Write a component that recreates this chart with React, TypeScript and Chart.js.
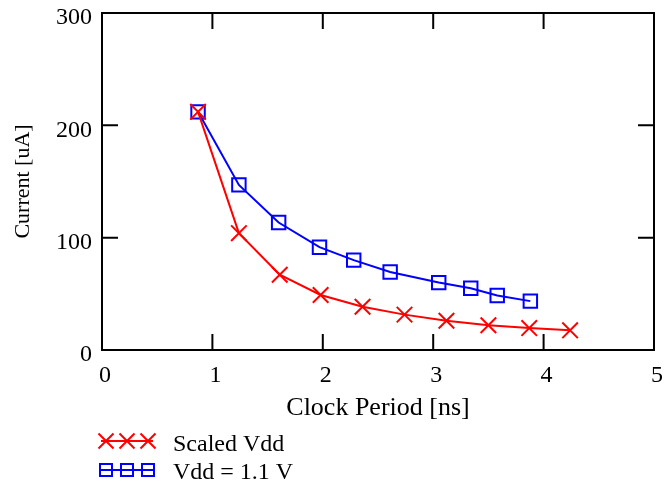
import React, { useEffect, useRef } from "react";
import { Chart, registerables } from "chart.js";

Chart.register(...registerables);

const seriesNames = ["Scaled Vdd", "Vdd = 1.1 V"];
const scaledPeriod = [0.87, 1.24, 1.61, 1.98, 2.36, 2.74, 3.12, 3.5, 3.87, 4.24];
const scaledCurrent = [212, 104, 67, 49, 38.5, 31.5, 26, 22, 19.5, 17.5];
const fixedPeriod = [0.87, 1.24, 1.6, 1.97, 2.28, 2.61, 3.05, 3.34, 3.58, 3.88];
const fixedCurrent = [212, 147, 113.5, 91.5, 80, 69.5, 60, 55, 48.5, 43.5];
const xTicks = [0, 1, 2, 3, 4, 5];
const yTicks = [0, 100, 200, 300];

const FONT = "'Liberation Serif', 'Times New Roman', serif";
const RED = "#ff0000";
const BLUE = "#0000ff";

function drawMarker(ctx: CanvasRenderingContext2D, kind: string, x: number, y: number, s: number) {
  ctx.beginPath();
  if (kind === "cross") {
    ctx.moveTo(x - s, y - s);
    ctx.lineTo(x + s, y + s);
    ctx.moveTo(x + s, y - s);
    ctx.lineTo(x - s, y + s);
  } else {
    ctx.rect(x - s, y - s, 2 * s, 2 * s);
  }
  ctx.stroke();
}

const framePlugin = {
  id: "frame",
  beforeDatasetsDraw(chart: any) {
    const { ctx, chartArea, scales } = chart;
    const { left, right, top, bottom } = chartArea;
    const L = 16;
    ctx.save();
    ctx.strokeStyle = "#000";
    ctx.lineWidth = 2;
    ctx.strokeRect(left, top, right - left, bottom - top);
    ctx.beginPath();
    xTicks.forEach((v) => {
      const px = scales.x.getPixelForValue(v);
      ctx.moveTo(px, bottom);
      ctx.lineTo(px, bottom - L);
      ctx.moveTo(px, top);
      ctx.lineTo(px, top + L);
    });
    yTicks.forEach((v) => {
      const py = scales.y.getPixelForValue(v);
      ctx.moveTo(left, py);
      ctx.lineTo(left + L, py);
      ctx.moveTo(right, py);
      ctx.lineTo(right - L, py);
    });
    ctx.stroke();
    ctx.restore();
  },
  afterDraw(chart: any) {
    const { ctx } = chart;
    const rows = [
      { y: 441, ty: 445, kind: "cross", color: RED, label: seriesNames[0] },
      { y: 470, ty: 473, kind: "rect", color: BLUE, label: seriesNames[1] },
    ];
    ctx.save();
    rows.forEach((r) => {
      ctx.strokeStyle = r.color;
      ctx.lineWidth = 2;
      ctx.beginPath();
      ctx.moveTo(101, r.y);
      ctx.lineTo(153, r.y);
      ctx.stroke();
      [106, 127, 148].forEach((mx) => drawMarker(ctx, r.kind, mx, r.y, r.kind === "cross" ? 7.5 : 6));
      ctx.fillStyle = "#000";
      ctx.font = `24px ${FONT}`;
      ctx.textBaseline = "middle";
      ctx.textAlign = "left";
      ctx.fillText(r.label, 173, r.ty);
    });
    ctx.restore();
  },
};

export default function App() {
  const ref = useRef<HTMLCanvasElement>(null);
  useEffect(() => {
    if (!ref.current) return;
    const chart = new Chart(ref.current, {
      type: "line",
      data: {
        datasets: [
          {
            label: seriesNames[0],
            data: scaledPeriod.map((x, i) => ({ x, y: scaledCurrent[i] })),
            borderColor: RED,
            backgroundColor: "rgba(0,0,0,0)",
            borderWidth: 2,
            pointStyle: "crossRot",
            pointRadius: 11,
            pointBorderWidth: 2,
            pointBorderColor: RED,
          },
          {
            label: seriesNames[1],
            data: fixedPeriod.map((x, i) => ({ x, y: fixedCurrent[i] })),
            borderColor: BLUE,
            backgroundColor: "rgba(0,0,0,0)",
            borderWidth: 2,
            pointStyle: "rect",
            pointRadius: 9.5,
            pointBorderWidth: 2,
            pointBorderColor: BLUE,
          },
        ],
      },
      options: {
        responsive: false,
        animation: false,
        layout: { padding: { left: 0, right: 9, top: 13, bottom: 65 } },
        plugins: { legend: { display: false }, tooltip: { enabled: false } },
        scales: {
          x: {
            type: "linear",
            min: 0,
            max: 5,
            afterBuildTicks: (s: any) => {
              s.ticks = xTicks.map((v) => ({ value: v }));
            },
            ticks: { color: "#000", font: { family: FONT, size: 24 }, padding: 11, maxRotation: 0, labelOffset: 3 },
            grid: { display: false, drawTicks: false, tickLength: 0 },
            border: { display: false },
            title: { display: true, text: "Clock Period [ns]", color: "#000", font: { family: FONT, size: 26 }, padding: { top: 4, bottom: 0 } },
            afterFit: (s: any) => {
              s.height = 74;
              s.paddingLeft = 0;
              s.paddingRight = 0;
            },
          },
          y: {
            type: "linear",
            min: 0,
            max: 300,
            afterBuildTicks: (s: any) => {
              s.ticks = yTicks.map((v) => ({ value: v }));
            },
            ticks: { color: "#000", font: { family: FONT, size: 24 }, padding: 10, labelOffset: 5 },
            grid: { display: false, drawTicks: false, tickLength: 0 },
            border: { display: false },
            title: { display: true, text: "Current [uA]", color: "#000", font: { family: FONT, size: 22 }, padding: { top: 10, bottom: 4 } },
            afterFit: (s: any) => {
              s.width = 102;
              s.paddingTop = 0;
              s.paddingBottom = 0;
            },
          },
        },
      },
      plugins: [framePlugin],
    });
    return () => chart.destroy();
  }, []);
  return (
    <canvas
      ref={ref}
      width={667}
      height={489}
      style={{ position: "fixed", left: 0, top: 0, width: 667, height: 489 }}
    />
  );
}
